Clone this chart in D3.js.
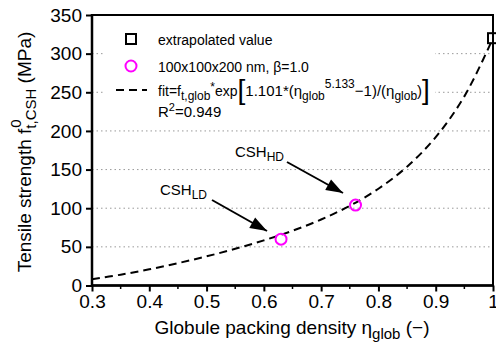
<!DOCTYPE html>
<html><head><meta charset="utf-8">
<script src="https://cdn.jsdelivr.net/npm/d3@7/dist/d3.min.js"></script>
<style>body{margin:0;background:#fff;} text{font-family:"Liberation Sans",Arial,sans-serif;}</style>
</head><body><svg id="c" width="496" height="348"></svg>
<script>
// data
const xTicks = [0.3,0.4,0.5,0.6,0.7,0.8,0.9,1.0];
const xTickLabels = ["0.3","0.4","0.5","0.6","0.7","0.8","0.9","1"];
const yTicks = [0,50,100,150,200,250,300,350];
const gridValues = [50,100,150,200,250,300];
const fitEta = [0.30,0.35,0.40,0.45,0.50,0.55,0.60,0.65,0.70,0.75,0.80,0.85,0.90,0.95,1.00];
const fitVal = [8.2,14.0,20.9,28.9,37.7,47.5,58.4,70.8,85.4,103.1,125.2,153.8,192.0,244.7,320.0];
const simEta = [0.63,0.76];
const simVal = [60,104];
const extrapEta = [1.0];
const extrapVal = [320];

const svg = d3.select("#c");
const L=92,R=493,T=15,B=285.5;
const x = d3.scaleLinear().domain([0.3,1.0]).range([L,R]);
const y = d3.scaleLinear().domain([0,350]).range([B,T]);

// grid
svg.append("g").selectAll("line").data(gridValues).join("line")
  .attr("x1",L).attr("x2",R).attr("y1",d=>y(d)).attr("y2",d=>y(d))
  .attr("stroke","#999").attr("stroke-width",1).attr("stroke-dasharray","1.5,3");

// legend background
svg.append("rect").attr("x",105).attr("y",22).attr("width",330).attr("height",100).attr("fill","#fff");

// fit curve
const line = d3.line().x((d,i)=>x(fitEta[i])).y(d=>y(d)).curve(d3.curveCatmullRom);
svg.append("path").attr("d",line(fitVal)).attr("fill","none").attr("stroke","#000")
  .attr("stroke-width",2).attr("stroke-dasharray","8,5");

// sim circles
svg.append("g").selectAll("circle").data(simVal).join("circle")
  .attr("cx",(d,i)=>x(simEta[i])).attr("cy",d=>y(d)).attr("r",5.5)
  .attr("fill","none").attr("stroke","#ff00ff").attr("stroke-width",2);

// extrapolated square
svg.append("g").selectAll("rect").data(extrapVal).join("rect")
  .attr("x",(d,i)=>x(extrapEta[i])-5).attr("y",d=>y(d)-5).attr("width",10).attr("height",10)
  .attr("fill","none").attr("stroke","#000").attr("stroke-width",2);

// axes
const xAxis = d3.axisBottom(x).tickValues(xTicks).tickFormat((d,i)=>xTickLabels[i]).tickSize(6).tickPadding(3);
const gx = svg.append("g").attr("transform",`translate(0,${B})`).call(xAxis);
gx.select(".domain").remove();
gx.selectAll("line").attr("stroke-width",2);
gx.selectAll("text").attr("font-size",19).attr("font-family","Liberation Sans, Arial, sans-serif");
const minor = d3.range(0.35,1.0,0.1);
svg.append("g").selectAll("line").data(minor).join("line")
  .attr("x1",d=>x(d)).attr("x2",d=>x(d)).attr("y1",B).attr("y2",B+3.5).attr("stroke","#000").attr("stroke-width",1.5);

const yAxis = d3.axisLeft(y).tickValues(yTicks).tickSize(6).tickPadding(4);
const gy = svg.append("g").attr("transform",`translate(${L},0)`).call(yAxis);
gy.select(".domain").remove();
gy.selectAll("line").attr("stroke-width",2);
gy.selectAll("text").attr("font-size",19).attr("font-family","Liberation Sans, Arial, sans-serif");

// frame
svg.append("rect").attr("x",L).attr("y",T).attr("width",R-L).attr("height",B-T)
  .attr("fill","none").attr("stroke","#000").attr("stroke-width",2);
svg.append("line").attr("x1",L-1).attr("x2",R+1).attr("y1",B).attr("y2",B).attr("stroke","#000").attr("stroke-width",2.5);
svg.append("line").attr("x1",L).attr("x2",L).attr("y1",T-1).attr("y2",B+1).attr("stroke","#000").attr("stroke-width",2.5);

// axis titles
const xt = svg.append("text").attr("x",292).attr("y",334).attr("text-anchor","middle").attr("font-size",19);
xt.append("tspan").text("Globule packing density η");
xt.append("tspan").attr("font-size",15).attr("dy",5).text("glob");
xt.append("tspan").attr("dy",-5).text(" (−)");

const yg = svg.append("g").attr("transform","translate(31,152) rotate(-90)");
const yt = yg.append("text").attr("text-anchor","middle").attr("font-size",19);
yt.append("tspan").text("Tensile strength f");
const sub = yt.append("tspan").attr("font-size",15).attr("dy",5).text("t,CSH");
yt.append("tspan").attr("dy",-5).text(" (MPa)");
// superscript 0 stacked over subscript start
const subStart = yt.node().getStartPositionOfChar("Tensile strength f".length);
yg.append("text").attr("x",subStart.x+1).attr("y",-10).attr("font-size",15).text("0");

// legend
const lg = svg.append("g");
lg.append("rect").attr("x",126).attr("y",34).attr("width",10).attr("height",10).attr("fill","none").attr("stroke","#000").attr("stroke-width",2);
lg.append("text").attr("x",158).attr("y",45).attr("font-size",14).text("extrapolated value");
lg.append("circle").attr("cx",131).attr("cy",66).attr("r",5.5).attr("fill","none").attr("stroke","#ff00ff").attr("stroke-width",2);
lg.append("text").attr("x",158).attr("y",72).attr("font-size",14).text("100x100x200 nm, β=1.0");
lg.append("line").attr("x1",116).attr("x2",147).attr("y1",90).attr("y2",90).attr("stroke","#000").attr("stroke-width",2).attr("stroke-dasharray","8,5");
const ft = lg.append("text").attr("x",158).attr("y",96).attr("font-size",14);
ft.append("tspan").text("fit=f");
ft.append("tspan").attr("font-size",12).attr("dy",4).text("t,glob");
ft.append("tspan").attr("font-size",12).attr("dy",-9).text("*");
ft.append("tspan").attr("dy",5).text("exp");
ft.append("tspan").attr("font-size",28).attr("dy",3).text("[");
ft.append("tspan").attr("font-size",15).attr("dy",-3).text("1.101*(η");
ft.append("tspan").attr("font-size",12).attr("dy",4).text("glob");
ft.append("tspan").attr("font-size",12).attr("dy",-12).text("5.133");
ft.append("tspan").attr("font-size",15).attr("dy",8).text("−1)/(η");
ft.append("tspan").attr("font-size",12).attr("dy",4).text("glob");
ft.append("tspan").attr("font-size",15).attr("dy",-4).text(")");
ft.append("tspan").attr("font-size",28).attr("dy",3).text("]");
const r2 = lg.append("text").attr("x",158).attr("y",117).attr("font-size",15);
r2.append("tspan").text("R");
r2.append("tspan").attr("font-size",11).attr("dy",-6).text("2");
r2.append("tspan").attr("dy",6).text("=0.949");

// annotations
function arrow(x1,y1,x2,y2){
  svg.append("line").attr("x1",x1).attr("y1",y1).attr("x2",x2).attr("y2",y2).attr("stroke","#000").attr("stroke-width",2);
  const a=Math.atan2(y2-y1,x2-x1), len=17, w=6;
  const bx=x2-len*Math.cos(a), by=y2-len*Math.sin(a);
  const p=[[x2,y2],[bx+w*Math.sin(a),by-w*Math.cos(a)],[bx-w*Math.sin(a),by+w*Math.cos(a)]];
  svg.append("path").attr("d","M"+p.map(q=>q.join(",")).join("L")+"Z").attr("fill","#000");
}
arrow(212,200,267,231);
arrow(287,162,343,193);
const t1 = svg.append("text").attr("x",160).attr("y",195).attr("font-size",15);
t1.append("tspan").text("CSH");
t1.append("tspan").attr("font-size",12).attr("dy",4).text("LD");
const t2 = svg.append("text").attr("x",235).attr("y",157).attr("font-size",15);
t2.append("tspan").text("CSH");
t2.append("tspan").attr("font-size",12).attr("dy",4).text("HD");
</script></body></html>
